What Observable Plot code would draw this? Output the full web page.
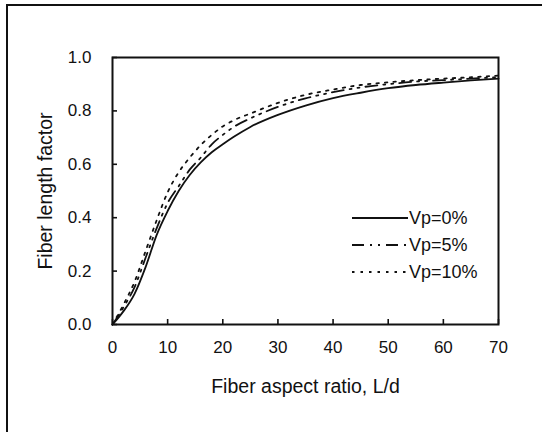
<!DOCTYPE html>
<html>
<head>
<meta charset="utf-8">
<script src="https://cdn.jsdelivr.net/npm/d3@7"></script>
<script src="https://cdn.jsdelivr.net/npm/@observablehq/plot@0.6"></script>
<style>
  body { margin: 0; background: #fff; }
  #wrap { position: relative; width: 542px; height: 432px; overflow: hidden; font-family: "Liberation Sans", Arial, sans-serif; color: #111; }
  #border { position: absolute; left: 6px; top: 4px; width: 700px; height: 700px; border-left: 2px solid #111; border-top: 2px solid #111; }
  #chart { position: absolute; left: 0; top: 0; }
  #legend { position: absolute; left: 350px; top: 204px; }
  g[aria-label="x-axis label"], g[aria-label="y-axis label"] { font-size: 19.5px; }
</style>
</head>
<body>
<div id="wrap">
  <div id="border"></div>
  <div id="chart"></div>
  <div id="legend"></div>
</div>
<script>
// ---- data ----
const aspectRatio = [0, 2, 4, 6, 8, 10, 12, 14, 16, 18, 20, 22, 25, 30, 35, 40, 45, 50, 55, 60, 65, 70];
const vp0  = [0, 0.05, 0.115, 0.215, 0.335, 0.425, 0.50, 0.56, 0.607, 0.645, 0.675, 0.703, 0.74, 0.785, 0.82, 0.848, 0.868, 0.885, 0.897, 0.906, 0.914, 0.921];
const vp5  = [0, 0.065, 0.14, 0.25, 0.36, 0.455, 0.518, 0.58, 0.625, 0.675, 0.71, 0.74, 0.772, 0.815, 0.847, 0.87, 0.888, 0.90, 0.91, 0.915, 0.921, 0.926];
const vp10 = [0, 0.075, 0.16, 0.275, 0.39, 0.495, 0.57, 0.625, 0.672, 0.71, 0.742, 0.765, 0.79, 0.83, 0.86, 0.88, 0.897, 0.907, 0.915, 0.921, 0.926, 0.932];
const seriesNames = ["Vp=0%", "Vp=5%", "Vp=10%"];
const xTicks = [0, 10, 20, 30, 40, 50, 60, 70];
const yTicks = [0, 0.2, 0.4, 0.6, 0.8, 1.0];
const xTitle = "Fiber aspect ratio, L/d";
const yTitle = "Fiber length factor";

// ---- styles ----
const dashes = [null, "12 6 2 6 2 6", "2.5 6"];
const ink = "#111";

const seriesValues = [vp0, vp5, vp10];
const rows = [];
seriesNames.forEach((s, i) => aspectRatio.forEach((x, j) => rows.push({ series: s, x, y: seriesValues[i][j] })));

const W = 542, H = 432, ML = 112, MR = 44, MT = 57, MB = 108;
const tickLen = 5;

const chart = Plot.plot({
  width: W,
  height: H,
  marginLeft: ML,
  marginRight: MR,
  marginTop: MT,
  marginBottom: MB,
  style: { fontFamily: '"Liberation Sans", Arial, sans-serif', fontSize: "17px", color: ink, background: "transparent" },
  x: { domain: [0, 70] },
  y: { domain: [0, 1] },
  marks: [
    // tick labels + titles
    Plot.axisX({ ticks: xTicks, tickSize: 0, tickPadding: 16, tickFormat: d3.format("d"), label: xTitle, labelAnchor: "center", labelArrow: "none", labelOffset: 68 }),
    Plot.axisY({ ticks: yTicks, tickSize: 0, tickPadding: 21, tickFormat: d3.format(".1f"), label: yTitle, labelAnchor: "center", labelArrow: "none", labelOffset: 74 }),
    // inward tick marks
    Plot.axisX({ ticks: xTicks, tickSize: tickLen, dy: -tickLen, tickFormat: () => "", label: null, strokeWidth: 1.6, stroke: ink }),
    Plot.axisY({ ticks: yTicks, tickSize: tickLen, dx: tickLen, tickFormat: () => "", label: null, strokeWidth: 1.6, stroke: ink }),
    Plot.frame({ stroke: ink, strokeWidth: 2 }),
    ...seriesNames.map((s, i) => Plot.line(rows.filter(r => r.series === s), {
      x: "x", y: "y", stroke: ink, strokeWidth: 1.8, strokeDasharray: dashes[i], curve: "monotone-x"
    }))
  ]
});
document.getElementById("chart").appendChild(chart);

// ---- legend ----
const ns = "http://www.w3.org/2000/svg";
const lg = document.createElementNS(ns, "svg");
lg.setAttribute("width", 190);
lg.setAttribute("height", 84);
seriesNames.forEach((s, i) => {
  const cy = 14 + i * 27;
  const ln = document.createElementNS(ns, "line");
  ln.setAttribute("x1", 2); ln.setAttribute("x2", 58);
  ln.setAttribute("y1", cy); ln.setAttribute("y2", cy);
  ln.setAttribute("stroke", ink); ln.setAttribute("stroke-width", 1.8);
  if (dashes[i]) ln.setAttribute("stroke-dasharray", dashes[i]);
  lg.appendChild(ln);
  const t = document.createElementNS(ns, "text");
  t.setAttribute("x", 59); t.setAttribute("y", cy);
  t.setAttribute("dy", "0.35em");
  t.setAttribute("font-size", "18px");
  t.setAttribute("font-family", '"Liberation Sans", Arial, sans-serif');
  t.setAttribute("fill", ink);
  t.textContent = s;
  lg.appendChild(t);
});
document.getElementById("legend").appendChild(lg);
</script>
</body>
</html>
